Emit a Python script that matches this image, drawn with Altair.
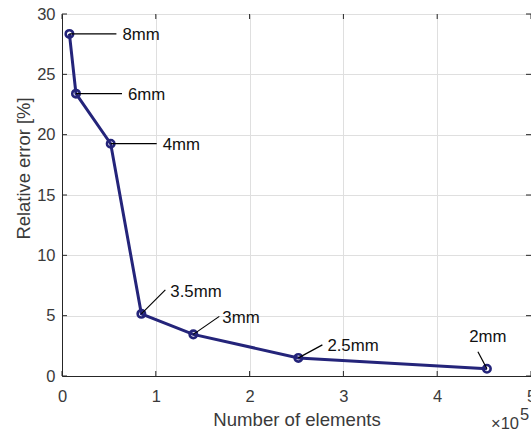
import altair as alt
import pandas as pd

# ---- data ----
labels = ["8mm", "6mm", "4mm", "3.5mm", "3mm", "2.5mm", "2mm"]
elements = [7900, 14900, 51900, 84600, 140000, 252000, 453000]
rel_error = [28.35, 23.4, 19.25, 5.15, 3.45, 1.5, 0.6]

x_ticks = [0, 100000, 200000, 300000, 400000, 500000]
y_ticks = [0, 5, 10, 15, 20, 25, 30]

# ---- annotation styling (pixel offsets) ----
leader_dx = [47, 46, 46, 24, 26, 24, -9]
leader_dy = [0, 0, 0, -24, -18, -13, -17]
text_dx = [53, 52, 52, 29, 29, 29, 1]
text_dy = [1, 1, 1, -22, -16, -12, -23]
text_align = ["left", "left", "left", "left", "left", "left", "center"]
text_baseline = ["middle", "middle", "middle", "middle", "middle", "middle", "bottom"]

W, H = 469, 362
NAVY = "#24247a"
AX = "#262626"
TXT = "#3a3a3a"
FONT = "Liberation Sans"

df = pd.DataFrame({"label": labels, "elements": elements, "rel_error": rel_error})
xt = pd.DataFrame({"v": x_ticks})
yt = pd.DataFrame({"v": y_ticks})
note = pd.DataFrame({"t": ["\u00d710"], "s": ["5"]})

xscale = alt.Scale(domain=[0, 500000], nice=False, zero=False)
yscale = alt.Scale(domain=[0, 30], nice=False, zero=False)

x_enc = alt.X(
    "elements:Q",
    scale=xscale,
    axis=alt.Axis(
        values=x_ticks,
        labelExpr="datum.value / 100000",
        title="Number of elements",
        grid=True,
        gridColor="#dfdfdf",
        tickSize=0,
        labelPadding=12,
        labelFlush=False,
        labelOverlap=False,
        labelFontSize=16.5,
        labelColor=TXT,
        labelFont=FONT,
        domainColor=AX,
        titleFontSize=18.6,
        titleFontWeight="normal",
        titleColor=TXT,
        titleFont=FONT,
        titlePadding=6,
    ),
)
y_enc = alt.Y(
    "rel_error:Q",
    scale=yscale,
    axis=alt.Axis(
        values=y_ticks,
        title="Relative error [%]",
        grid=True,
        gridColor="#dfdfdf",
        tickSize=0,
        labelPadding=7,
        labelFontSize=16.5,
        labelColor=TXT,
        labelFont=FONT,
        domainColor=AX,
        titleFontSize=18.4,
        titleFontWeight="normal",
        titleColor=TXT,
        titleFont=FONT,
        titleX=-39,
        titleY=154,
        titleBaseline="middle",
        titleAlign="center",
        titleAngle=270,
    ),
)

line = alt.Chart(df).mark_line(color=NAVY, strokeWidth=3).encode(x=x_enc, y=y_enc)
pts = alt.Chart(df).mark_point(
    shape="circle", filled=False, color=NAVY, size=55, strokeWidth=2.6, opacity=1
).encode(x=alt.X("elements:Q", scale=xscale), y=alt.Y("rel_error:Q", scale=yscale))

layers = [line, pts]

for i, lab in enumerate(labels):
    sub = alt.Chart(df).transform_filter(alt.datum.label == lab)
    leader = sub.mark_rule(
        color="#000000", strokeWidth=1.2, x2Offset=leader_dx[i], y2Offset=leader_dy[i]
    ).encode(
        x=alt.X("elements:Q", scale=xscale),
        y=alt.Y("rel_error:Q", scale=yscale),
        x2="elements:Q",
        y2="rel_error:Q",
    )
    txt = sub.mark_text(
        align=text_align[i],
        baseline=text_baseline[i],
        dx=text_dx[i],
        dy=text_dy[i],
        fontSize=16.8,
        font=FONT,
        color="#111111",
    ).encode(
        x=alt.X("elements:Q", scale=xscale),
        y=alt.Y("rel_error:Q", scale=yscale),
        text="label:N",
    )
    layers += [leader, txt]

# inward ticks (MATLAB style) on all four sides
tick_style = dict(color=AX, strokeWidth=1)
xb = alt.Chart(xt).mark_rule(**tick_style).encode(
    x=alt.X("v:Q", scale=xscale), y=alt.value(H), y2=alt.value(H - 5))
xtp = alt.Chart(xt).mark_rule(**tick_style).encode(
    x=alt.X("v:Q", scale=xscale), y=alt.value(0), y2=alt.value(5))
yl = alt.Chart(yt).mark_rule(**tick_style).encode(
    y=alt.Y("v:Q", scale=yscale), x=alt.value(0), x2=alt.value(5))
yr = alt.Chart(yt).mark_rule(**tick_style).encode(
    y=alt.Y("v:Q", scale=yscale), x=alt.value(W), x2=alt.value(W - 5))
layers += [xb, xtp, yl, yr]

# exponent note  x10^5
exp_base = alt.Chart(note).mark_text(
    align="left", baseline="alphabetic", fontSize=16.5, font=FONT, color=TXT
).encode(x=alt.value(W - 40), y=alt.value(H + 53), text="t:N")
exp_sup = alt.Chart(note).mark_text(
    align="left", baseline="alphabetic", fontSize=16.5, font=FONT, color=TXT
).encode(x=alt.value(W - 11), y=alt.value(H + 44), text="s:N")
layers += [exp_base, exp_sup]

chart = (
    alt.layer(*layers)
    .properties(
        width=W,
        height=H,
        autosize=alt.AutoSizeParams(type="none"),
        padding={"left": 62, "top": 14, "right": 0, "bottom": 57},
        background="white",
    )
    .configure_view(stroke=AX, strokeWidth=1)
)

chart.save("out.html", embed_options={"renderer": "svg", "actions": False})
